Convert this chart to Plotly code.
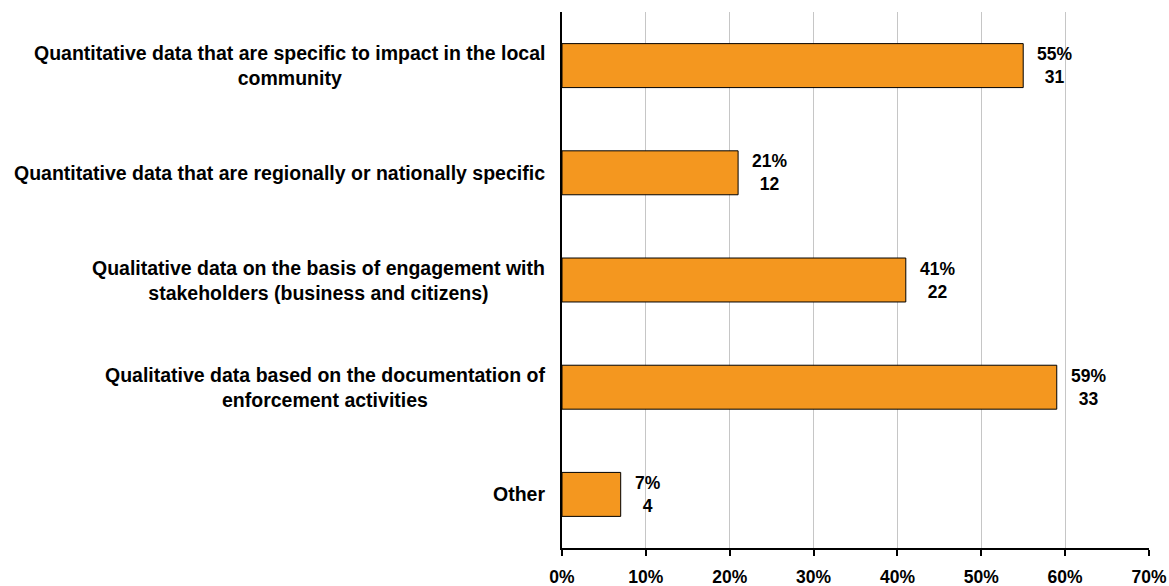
import plotly.graph_objects as go

categories = [
    "Quantitative data that are specific to impact in the local<br>community",
    "Quantitative data that are regionally or nationally specific",
    "Qualitative data on the basis of engagement with<br>stakeholders (business and citizens)",
    "Qualitative data based on the documentation of<br>enforcement activities",
    "Other",
]
percent = [55, 21, 41, 59, 7]
counts = [31, 12, 22, 33, 4]
x_ticks = [0, 10, 20, 30, 40, 50, 60, 70]

FONT = "Liberation Sans, Arial, sans-serif"
BAR_COLOR = "#F4971F"

fig = go.Figure()
fig.add_trace(go.Bar(
    y=categories,
    x=percent,
    orientation="h",
    marker=dict(color=BAR_COLOR, line=dict(color="#000000", width=1)),
    width=0.41,
    hoverinfo="skip",
))

for cat, p, n in zip(categories, percent, counts):
    # value labels to the right of each bar
    fig.add_annotation(
        x=p, y=cat, xref="x", yref="y",
        text=f"<b>{p}%<br>{n}</b>",
        showarrow=False, xanchor="left", xshift=12, align="center",
        font=dict(family=FONT, size=17.5, color="#000000"),
    )
    # category labels, centred text block right-aligned to the axis
    fig.add_annotation(
        x=0, y=cat, xref="paper", yref="y",
        text=f"<b>{cat}</b>",
        showarrow=False, xanchor="right", xshift=-15, align="center",
        font=dict(family=FONT, size=19.5, color="#000000"),
    )

fig.update_layout(
    width=1169, height=586,
    margin=dict(l=562, r=20, t=12, b=38),
    paper_bgcolor="white", plot_bgcolor="white",
    showlegend=False,
    font=dict(family=FONT, size=18, color="#000000"),
)
fig.update_xaxes(
    range=[0, 70],
    tickvals=x_ticks,
    ticktext=[f"<b>{v}%</b>" for v in x_ticks],
    showgrid=True, gridcolor="#C6C6C6", gridwidth=1,
    showline=True, linecolor="#000000", linewidth=2,
    ticks="outside", ticklen=6, tickcolor="#000000", tickwidth=1.5,
    ticklabelstandoff=6,
    zeroline=False,
    automargin=False,
    tickfont=dict(family=FONT, size=17.5, color="#000000"),
)
fig.update_yaxes(
    autorange="reversed",
    showticklabels=False,
    showgrid=False,
    showline=True, linecolor="#000000", linewidth=2,
    ticks="",
    zeroline=False,
    automargin=False,
)

fig.write_html("out.html")
